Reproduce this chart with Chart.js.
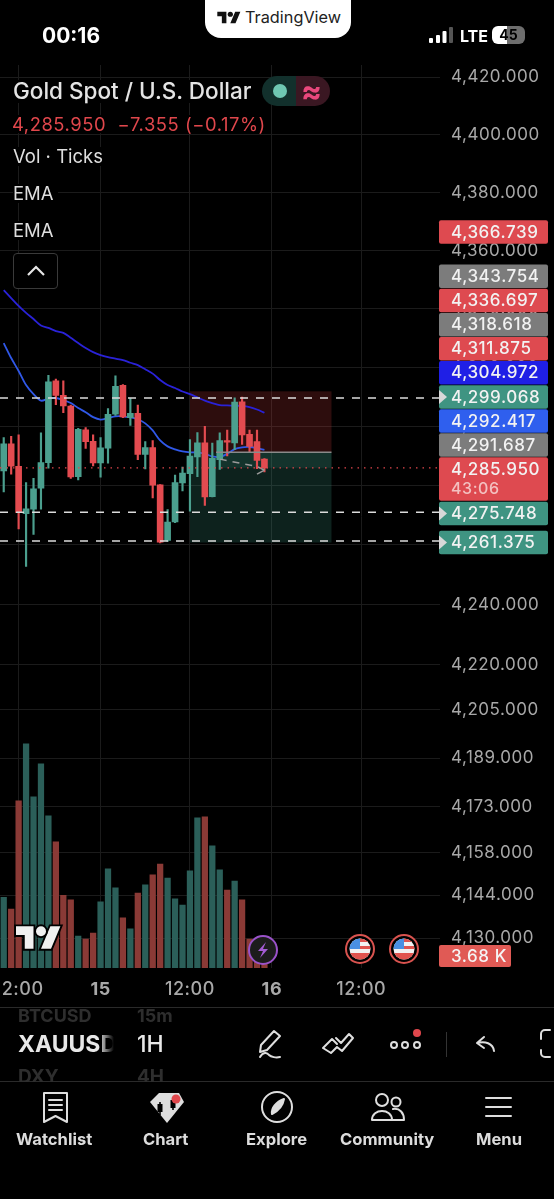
<!DOCTYPE html>
<html><head><meta charset="utf-8">
<script src="https://cdn.jsdelivr.net/npm/chart.js@4"></script>
<style>
html,body{margin:0;padding:0;background:#000;width:554px;height:1199px;overflow:hidden;font-family:Inter,Roboto,sans-serif;color:#e8e8e8}
canvas{position:absolute;left:0;top:0}
.a{position:absolute;white-space:nowrap;line-height:1}
svg{position:absolute;overflow:visible}
.nav{font-weight:700;font-size:16.6px;color:#dcdcdc;top:1131px}
.ico{fill:none;stroke:#dedede;stroke-width:2;stroke-linecap:round;stroke-linejoin:round}
</style></head><body>
<canvas id="c" width="554" height="1199"></canvas>
<div class="a" style="left:205px;top:0;width:146px;height:38px;background:#fff;border-radius:0 0 16px 16px"></div>
<svg style="left:217px;top:11px" width="24" height="13" viewBox="0 0 36 20"><path fill="#111" d="M14 19H7V8H0V1h14zM28 19h-8l7.5-18h8z"/><circle fill="#111" cx="20" cy="5" r="4"/></svg>
<div class="a" style="left:245px;top:9px;font-size:16.3px;color:#222">TradingView</div>
<div class="a" style="left:42px;top:25px;font-size:21px;font-weight:700;color:#fff">00:16</div>
<svg style="left:429px;top:27px" width="24" height="17"><rect x="0" y="11" width="4" height="5" rx="1" fill="#fff"/><rect x="7" y="8" width="4" height="8" rx="1" fill="#fff"/><rect x="13.5" y="4" width="4" height="12" rx="1" fill="#fff"/><rect x="20" y="0" width="4" height="16" rx="1" fill="#555"/></svg>
<div class="a" style="left:460px;top:28px;font-size:16px;font-weight:700;color:#fff">LTE</div>
<div class="a" style="left:492px;top:26px;width:33px;height:18px;border-radius:6px;background:linear-gradient(90deg,#fff 0,#fff 45%,#6e6e6e 45%);color:#000;font-size:14px;font-weight:700;text-align:center;line-height:18px">45</div>

<div class="a" style="left:13px;top:80px;font-size:22.5px;font-weight:500;color:#e4e4e4;background:#000;padding-right:8px">Gold Spot / U.S. Dollar</div>
<div class="a" style="left:262px;top:76px;width:34px;height:30px;background:#12302c;border-radius:15px 0 0 15px"></div>
<div class="a" style="left:296px;top:76px;width:34px;height:30px;background:#3a1722;border-radius:0 15px 15px 0"></div>
<div class="a" style="left:273px;top:84px;width:14px;height:14px;border-radius:50%;background:#6fc7b2"></div>
<div class="a" style="left:301px;top:75px;font-size:31px;font-weight:700;color:#e8487c">≈</div>
<div class="a" style="left:12px;top:115px;font-size:18.4px;color:#e0474c;letter-spacing:.55px;background:#000;padding-right:4px">4,285.950&nbsp; −7.355 (−0.17%)</div>
<div class="a" style="left:13px;top:147px;font-size:18.5px;color:#dedede;background:#000;padding-right:4px">Vol · Ticks</div>
<div class="a" style="left:13px;top:184px;font-size:18.5px;color:#dedede;background:#000;padding-right:4px">EMA</div>
<div class="a" style="left:13px;top:221px;font-size:18.5px;color:#dedede;background:#000;padding-right:4px">EMA</div>
<div class="a" style="left:13px;top:253px;width:43px;height:34px;border:1.5px solid #3a3a3a;border-radius:4px;background:#000"></div>
<svg style="left:27px;top:265px" width="18" height="12"><path d="M1 10L9 2l8 8" fill="none" stroke="#e6e6e6" stroke-width="2.2"/></svg>

<svg style="left:16px;top:925px" width="45" height="25" viewBox="0 0 36 20"><g stroke="#000" stroke-width="3" paint-order="stroke" fill="#f0f0f0"><path d="M14 19H7V8H0V1h14zM28 19h-8l7.5-18h8z"/><circle cx="20" cy="5" r="4"/></g></svg>
<svg style="left:248px;top:935px" width="30" height="30"><circle cx="15" cy="15" r="14" fill="#1c1c1c" stroke="#9a52c9" stroke-width="2"/><path d="M18 7l-8 9h5l-3 7 8-9h-5z" fill="#a45cd4"/></svg>
<svg style="left:345px;top:934px" width="30" height="30" viewBox="0 0 30 30"><use href="#flag"/></svg>
<svg style="left:389px;top:934px" width="30" height="30" viewBox="0 0 30 30">
<defs><clipPath id="fc"><circle cx="15" cy="15" r="10.5"/></clipPath><g id="flag"><circle cx="15" cy="15" r="14" fill="#000" stroke="#d9534f" stroke-width="2"/><g clip-path="url(#fc)"><rect x="3" y="3" width="24" height="24" fill="#f2f2f2"/><rect x="15" y="4" width="12" height="4" fill="#e0544f"/><rect x="15" y="12" width="12" height="3" fill="#e0544f"/><rect x="3" y="19" width="24" height="8" fill="#e0544f"/><rect x="4" y="4" width="11" height="11" fill="#4a90e2"/></g></g></defs>
<use href="#flag"/></svg>

<div class="a" style="left:0;top:1007px;width:554px;height:1px;background:#2a2a2a"></div>
<div class="a" style="left:0;top:1081px;width:554px;height:1px;background:#2a2a2a"></div>
<div class="a" style="left:18px;top:1007px;font-size:18px;font-weight:700;color:#2e2e2e;height:15px;overflow:hidden;width:94px">BTCUSD</div>
<div class="a" style="left:137px;top:1007px;font-size:18px;font-weight:700;color:#2e2e2e;height:15px;overflow:hidden">15m</div>
<div class="a" style="left:18px;top:1033px;font-size:23px;font-weight:700;width:96px;overflow:hidden;color:#e8e8e8;-webkit-mask-image:linear-gradient(90deg,#000 84%,transparent)">XAUUSD</div>
<div class="a" style="left:137px;top:1033px;font-size:23px;font-weight:500;color:#e8e8e8">1H</div>
<div class="a" style="left:18px;top:1067px;font-size:19px;font-weight:700;color:#2e2e2e;height:15px;overflow:hidden">DXY</div>
<div class="a" style="left:137px;top:1067px;font-size:19px;font-weight:700;color:#2e2e2e;height:15px;overflow:hidden">4H</div>
<svg class="ico" style="left:256px;top:1028px" width="30" height="32"><path d="M18 3l6 5-13 14-7 2 1-7zM4 29c3-5 7-5 9-2 2 2 7 3 11 2"/></svg>
<svg class="ico" style="left:322px;top:1032px" width="32" height="22"><path d="M1 16L10 7l5 5M9 21L1 16M9 21l6-6 5 4 11-13-4-4-8 9-5-5"/></svg>
<svg class="ico" style="left:390px;top:1040px" width="32" height="10"><circle cx="4" cy="5" r="3"/><circle cx="15" cy="5" r="3"/><circle cx="27" cy="5" r="3"/></svg>
<div class="a" style="left:413px;top:1029px;width:8px;height:8px;border-radius:50%;background:#e0474c"></div>
<div class="a" style="left:446px;top:1032px;width:1px;height:25px;background:#333"></div>
<svg class="ico" style="left:476px;top:1036px" width="20" height="16"><path d="M8 1L1 7l7 5M1 7c8-2 16 0 17 8"/></svg>
<svg class="ico" style="left:540px;top:1029px" width="14" height="30"><path d="M10 1H5a4 4 0 0 0-4 4v5M1 21v3a4 4 0 0 0 4 4h5"/></svg>
<svg class="ico" style="left:43px;top:1092px" width="25" height="31"><path d="M1 1h23v29l-11.500-6L1 30zM6 8h13M6 13h13M6 18h13"/></svg>
<svg style="left:149px;top:1092px" width="36" height="32"><path d="M10 1h20l5 9-17 21L1 10z" fill="#dedede"/><path d="M11 10v13M24 5v13" stroke="#000" stroke-width="1.6"/><rect x="8.500" y="12" width="5" height="8" fill="#000"/><rect x="21.500" y="8" width="5" height="8" fill="#000"/><circle cx="27" cy="7" r="4.500" fill="#e0474c"/></svg>
<svg class="ico" style="left:261px;top:1091px" width="32" height="32"><circle cx="16" cy="16" r="15"/><path d="M23 8c-1 6-4 11-12 15-1-6 4-12 12-15z" fill="#dedede"/></svg>
<svg class="ico" style="left:371px;top:1093px" width="34" height="28"><circle cx="11" cy="7" r="6"/><circle cx="25" cy="9" r="4.500"/><path d="M1 27c0-12 20-12 20 0zM22 16c7-1 11 4 11 11H21"/></svg>
<svg class="ico" style="left:485px;top:1097px" width="27" height="20"><path d="M1 1h25M1 10h25M1 19h25"/></svg>
<div class="a nav" style="left:16px">Watchlist</div>
<div class="a nav" style="left:143px">Chart</div>
<div class="a nav" style="left:246px">Explore</div>
<div class="a nav" style="left:340px">Community</div>
<div class="a nav" style="left:476px">Menu</div>

<script>
const xLabels = ['','','12:00','','','','','','','','','','','15','','','','','','','','','','','','12:00','','','','','','','','','','','16','','','','','','','','','','','','12:00','','','','','','','','','',''];
const open  = [4284.9,4294.1,4286.5,4270.5,4272.0,4279.1,4287.7,4315.4,4310.5,4306.9,4283.0,4298.8,4294.9,4287.6,4292.6,4304.1,4313.9,4302.9,4304.4,4290.5,4292.8,4280.2,4261.5,4267.7,4280.9,4284.0,4289.6,4294.4,4276.2,4288.7,4295.2,4294.4,4308.3,4297.3,4294.8,4288.9];
const close = [4294.1,4286.5,4270.8,4272.1,4278.9,4287.7,4315.1,4310.5,4306.9,4282.9,4299.0,4294.8,4287.6,4292.7,4304.1,4313.6,4303.2,4304.4,4290.5,4292.8,4280.1,4260.9,4267.7,4281.0,4284.2,4289.9,4294.4,4276.1,4289.2,4295.2,4294.6,4308.2,4297.1,4293.2,4288.5,4285.95];
const high  = [4296.2,4296.6,4297.1,4281.0,4282.4,4297.8,4317.3,4316.0,4315.4,4307.2,4299.3,4299.6,4297.1,4296.2,4306.0,4317.1,4314.2,4309.4,4307.2,4294.8,4295.2,4280.3,4271.9,4283.5,4286.2,4295.5,4297.9,4300.0,4294.3,4297.8,4298.7,4309.7,4309.9,4298.7,4298.7,4289.1];
const low   = [4277.8,4283.8,4265.4,4252.8,4263.5,4272.0,4285.8,4307.3,4304.6,4282.4,4281.9,4292.5,4286.6,4282.8,4287.5,4303.7,4302.9,4300.3,4288.7,4285.6,4275.8,4260.7,4261.2,4267.5,4278.2,4271.3,4283.0,4273.3,4276.1,4285.4,4290.0,4292.1,4293.9,4291.3,4285.7,4284.6];
const volume = [21.7,18.1,51.3,68.8,52.5,62.6,46.7,38.7,22.3,20.9,9.8,8.9,10.7,20.3,30.4,24.6,15.4,12.0,23.0,25.5,28.6,31.9,27.6,21.2,19.3,29.8,46.1,46.4,37.5,30.1,23.9,26.7,20.9,8.9,5.0,3.68];
const emaSlow = [4346.4,4343.7,4341.0,4338.6,4336.5,4334.3,4333.5,4332.4,4331.8,4330.1,4328.3,4326.6,4325.2,4324.2,4323.5,4323.0,4322.5,4321.6,4320.8,4319.4,4317.9,4315.7,4314.0,4313.0,4311.8,4310.9,4309.8,4308.7,4307.9,4307.2,4307.1,4307.0,4306.9,4306.5,4305.7,4304.6];
const emaFast = [4328.3,4323.2,4318.8,4314.0,4310.9,4308.7,4309.4,4309.6,4308.9,4307.9,4306.2,4304.8,4303.1,4302.3,4302.8,4303.4,4303.4,4303.0,4302.4,4301.0,4298.6,4295.2,4293.2,4292.2,4291.5,4291.2,4291.2,4290.7,4289.8,4289.6,4290.7,4292.3,4292.9,4293.0,4292.6,4292.0];
const trendLine = Array(29).fill(null).concat([4288.9,null,null,null,null,4286.4,4285.2]);
const trendHead = Array(34).fill(null).concat([4283.8,4285.2]);
const yTicks = [4420,4400,4380,4360,4340,4320,4300,4280,4260,4240,4220,4205,4189,4173,4158,4144,4130];
const dashedLevels = [4309.6,4271.0,4261.3];
const lastPrice = 4285.95;
const boxTop = 4311.875, boxEntry = 4291.2, boxBottom = 4260.8;
const boxStart = 25, boxEnd = 44, boxProfitStart = 29;
const pillTexts = ['4,366.739','4,343.754','4,336.697','4,318.618','4,311.875','4,304.972','4,299.068','4,292.417','4,291.687','4,285.950','4,275.748','4,261.375'];
const pillCenters = [232,276.3,300.5,324.7,348.7,372.7,397,421,445,469,513.5,542.5];
const pillColors = ['#de4a50','#7c7c7c','#de4a50','#7c7c7c','#de4a50','#1f1fe6','#3f9482','#2f5fee','#7c7c7c','#de4a50','#3f9482','#3f9482'];
const GREEN='#4b9f8e', RED='#e34b50', VGREEN='#2b5f59', VRED='#8a3a36';
const colors = open.map((o,i)=>close[i]>=o?GREEN:RED);
const volColors = open.map((o,i)=>close[i]>=o?VGREEN:VRED);

const overlay = {
  id:'overlay',
  beforeDraw(ch){ ch.ctx.letterSpacing='0.55px'; },
  beforeDatasetsDraw(ch){
    const {ctx,scales:{x,y}}=ch;
    const xa=x.getPixelForValue(boxStart), xb=x.getPixelForValue(boxEnd);
    const r=(v1,v2,c,l=xa)=>{const a=y.getPixelForValue(v1),b=y.getPixelForValue(v2);ctx.fillStyle=c;ctx.fillRect(l,a,xb-l,b-a);};
    r(boxTop,boxEntry,'rgba(205,60,60,.22)');
    r(boxEntry,boxBottom,'rgba(70,180,155,.19)');
    r(boxEntry,lastPrice,'rgba(70,180,155,.12)',x.getPixelForValue(boxProfitStart));
  },
  afterDatasetsDraw(ch){
    const {ctx,chartArea:A,scales:{x,y}}=ch;
    ctx.save();
    ctx.lineWidth=1.6;ctx.strokeStyle='#dcdcdc';ctx.setLineDash([8,8]);
    dashedLevels.forEach(v=>{const p=y.getPixelForValue(v);ctx.beginPath();ctx.moveTo(A.left,p);ctx.lineTo(A.right,p);ctx.stroke();});
    ctx.strokeStyle='#e0474c';ctx.setLineDash([1.5,5]);ctx.lineWidth=1.2;
    let p=y.getPixelForValue(lastPrice);ctx.beginPath();ctx.moveTo(A.left,p);ctx.lineTo(A.right,p);ctx.stroke();
    ctx.strokeStyle='#8a8a8a';ctx.setLineDash([]);ctx.lineWidth=1.5;
    p=y.getPixelForValue(boxEntry);ctx.beginPath();ctx.moveTo(x.getPixelForValue(boxProfitStart-0.5),p);ctx.lineTo(x.getPixelForValue(boxEnd),p);ctx.stroke();
    ctx.restore();
  },
  afterDraw(ch){
    const {ctx}=ch;
    ctx.save();
    ctx.textBaseline='middle';ctx.textAlign='left';
    const pill=(l,t,w,h,c)=>{ctx.fillStyle=c;ctx.beginPath();ctx.roundRect(l,t,w,h,2);ctx.fill();};
    pillTexts.forEach((tx,i)=>{
      const cy=pillCenters[i], two=tx==='4,285.950';
      pill(439,cy-11.7,109,two?43.5:23.4,pillColors[i]);
      ctx.font='500 17px Inter';ctx.fillStyle='#f2f2f2';
      ctx.fillText(tx,451,cy+0.5);
      if(two){ctx.fillStyle='#f3c0c0';ctx.font='500 16px Inter';ctx.fillText('43:06',451,cy+20);}
      if(pillColors[i]==='#3f9482'){ctx.fillStyle='#d8d8d8';ctx.beginPath();ctx.moveTo(439,cy-7);ctx.lineTo(447,cy);ctx.lineTo(439,cy+7);ctx.closePath();ctx.fill();}
    });
    pill(439,945,72,22,'#e05a55');
    ctx.font='500 17px Inter';ctx.fillStyle='#f5f5f5';ctx.fillText('3.68 K',451,956.5);
    ctx.restore();
  }
};

new Chart(document.getElementById('c'),{
  data:{labels:xLabels,datasets:[
    {type:'bar',label:'Candles',data:open.map((o,i)=>[Math.min(o,close[i]),Math.max(o,close[i])]),backgroundColor:colors,barThickness:6,grouped:false,yAxisID:'y',order:1},
    {type:'bar',label:'Wicks',data:low.map((l,i)=>[l,high[i]]),backgroundColor:colors,barThickness:1.5,grouped:false,yAxisID:'y',order:2},
    {type:'line',label:'EMA slow',data:emaSlow,borderColor:'#2a22d8',borderWidth:1.8,pointRadius:0,tension:.3,yAxisID:'y',order:3},
    {type:'line',label:'EMA fast',data:emaFast,borderColor:'#3058e8',borderWidth:1.8,pointRadius:0,tension:.3,yAxisID:'y',order:3},
    {type:'line',label:'Trend',data:trendLine,spanGaps:true,borderColor:'#9a9a9a',borderWidth:1.5,borderDash:[7,6],pointRadius:0,yAxisID:'y',order:0},
    {type:'line',label:'Trend head',data:trendHead,spanGaps:true,borderColor:'#9a9a9a',borderWidth:1.5,pointRadius:0,yAxisID:'y',order:0},
    {type:'bar',label:'Vol',data:volume,backgroundColor:volColors,barThickness:5.6,grouped:false,yAxisID:'v',order:5}
  ]},
  options:{
    responsive:false,animation:false,devicePixelRatio:window.devicePixelRatio||1,
    layout:{padding:{top:65,left:0,right:0,bottom:0}},
    plugins:{legend:{display:false},tooltip:{enabled:false}},
    scales:{
      x:{type:'category',offset:true,border:{display:false},
        afterFit(s){s.height=231;s.paddingLeft=0;s.paddingRight=0;},
        grid:{drawTicks:false,offset:false,color:c=>(c.tick&&c.tick.label)?'#1b1b1b':'transparent',lineWidth:1},
        ticks:{autoSkip:false,maxRotation:0,minRotation:0,padding:11,color:'#a8a8a8',
          font:c=>({family:'Inter',size:18,weight:(c.tick&&/^\d\d$/.test(c.tick.label))?'700':'500'})}},
      y:{type:'logarithmic',position:'right',min:4120.3,max:4424.2,bounds:'data',border:{display:false},
        afterFit(s){s.width=114.5;s.paddingTop=0;s.paddingBottom=0;},
        afterBuildTicks(s){s.ticks=yTicks.map(v=>({value:v}));},
        grid:{drawTicks:false,color:'#1b1b1b',lineWidth:1},
        ticks:{padding:11.5,color:'#a8a8a8',font:{family:'Inter',size:17,weight:'400'},autoSkip:false,
          callback:v=>Number(v).toLocaleString('en-US',{minimumFractionDigits:3,maximumFractionDigits:3})}},
      v:{type:'linear',display:false,min:0,max:277}
    }
  },
  plugins:[overlay]
});
</script>
</body></html>
